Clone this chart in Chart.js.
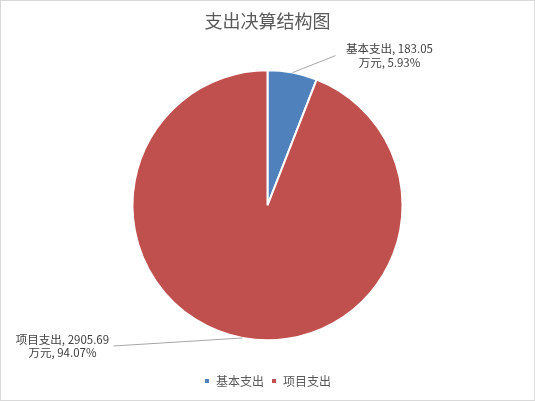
<!DOCTYPE html>
<html>
<head>
<meta charset="utf-8">
<script src="https://cdn.jsdelivr.net/npm/chart.js@4"></script>
<style>
html,body{margin:0;padding:0;background:#fff;}
#wrap{width:535px;height:401px;box-sizing:border-box;border:1px solid #d9d9d9;background:#fff;}
canvas{display:block;}
</style>
</head>
<body>
<div id="wrap"><canvas id="c" width="533" height="399"></canvas></div>
<script>
const titleText = '支出决算结构图';
const categories = ['基本支出', '项目支出'];
const values = [183.05, 2905.69];
const unit = '万元';
const colors = ['#4F81BD', '#C0504D'];
// label leader-line offsets (from slice edge midpoint) and text offsets (from line end)
const leaderOffsets = [[43, -17], [-129, 8]];
const textOffsets = [[54, -7, 7], [-51, -6, 7]];

const total = values.reduce((a, b) => a + b, 0);

const labelPlugin = {
  id: 'pieLabels',
  afterDatasetsDraw(chart) {
    const ctx = chart.ctx;
    const meta = chart.getDatasetMeta(0);
    ctx.save();
    meta.data.forEach((arc, i) => {
      const p = arc.getProps(['x', 'y', 'startAngle', 'endAngle', 'outerRadius'], true);
      const mid = (p.startAngle + p.endAngle) / 2;
      const sx = p.x + Math.cos(mid) * p.outerRadius;
      const sy = p.y + Math.sin(mid) * p.outerRadius;
      const ex = sx + leaderOffsets[i][0];
      const ey = sy + leaderOffsets[i][1];
      ctx.strokeStyle = '#a6a6a6';
      ctx.lineWidth = 1;
      ctx.beginPath();
      ctx.moveTo(sx, sy);
      ctx.lineTo(ex, ey);
      ctx.stroke();
      const pct = (values[i] / total * 100).toFixed(2);
      ctx.fillStyle = '#404040';
      ctx.font = '11.5px "Noto Sans CJK SC", "Noto Sans", sans-serif';
      ctx.textAlign = 'center';
      ctx.textBaseline = 'middle';
      const tx = ex + textOffsets[i][0];
      ctx.fillText(categories[i] + ', ' + values[i].toFixed(2), tx, ey + textOffsets[i][1]);
      ctx.fillText(unit + ', ' + pct + '%', tx, ey + textOffsets[i][2]);
    });
    ctx.restore();
  }
};

Chart.defaults.font.family = '"Noto Sans CJK SC", "Noto Sans", sans-serif';

new Chart(document.getElementById('c'), {
  type: 'pie',
  data: {
    labels: categories,
    datasets: [{
      data: values,
      backgroundColor: colors,
      borderColor: '#ffffff',
      borderWidth: 2
    }]
  },
  options: {
    responsive: false,
    animation: false,
    devicePixelRatio: 1,
    radius: '83.5%',
    layout: { padding: { top: 0, bottom: 3, left: 0, right: 0 } },
    plugins: {
      title: {
        display: true,
        text: titleText,
        color: '#595959',
        font: { size: 18, weight: 'normal' },
        padding: { top: 9, bottom: 11 }
      },
      legend: {
        display: true,
        position: 'bottom',
        labels: {
          color: '#595959',
          font: { size: 12 },
          boxWidth: 6,
          boxHeight: 6,
          padding: 7
        }
      },
      tooltip: { enabled: false }
    }
  },
  plugins: [labelPlugin]
});
</script>
</body>
</html>
